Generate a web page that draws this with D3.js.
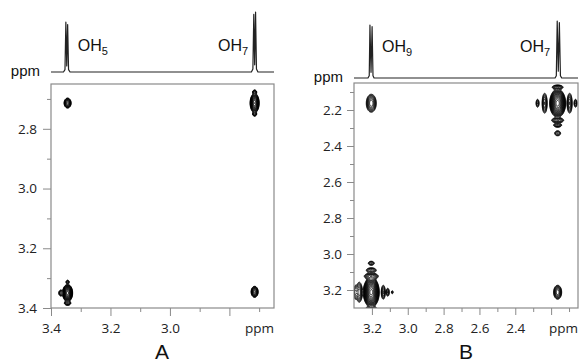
<!DOCTYPE html>
<html><head><meta charset="utf-8">
<script src="https://cdn.jsdelivr.net/npm/d3@7"></script>
<style>body{margin:0;background:#fff}svg{display:block}</style>
</head><body><svg id="c" width="579" height="364"></svg>
<script>
// ---------- DATA ----------
const panelNames = ["A", "B"];
// axis domains (ppm)
const domainA = [3.4, 2.65];
const domainB = [3.30, 2.05];
// ticks
const xMajorA = [3.4, 3.2, 3.0, 2.8];
const xMajorLabelsA = ["3.4", "3.2", "3.0", ""];
const xMinorA = [3.3, 3.1, 2.9, 2.7];
const yMajorA = [2.8, 3.0, 3.2, 3.4];
const yMinorA = [2.7, 2.9, 3.1, 3.3];
const xMajorB = [3.2, 3.0, 2.8, 2.6, 2.4, 2.2];
const xMajorLabelsB = ["3.2", "3.0", "2.8", "2.6", "2.4", ""];
const xMinorB = [3.1, 2.9, 2.7, 2.5, 2.3, 2.1];
const yMajorB = [2.2, 2.4, 2.6, 2.8, 3.0, 3.2];
const yMinorB = [2.1, 2.3, 2.5, 2.7, 2.9, 3.1];
// 1D projection spectra: [ppm, relative intensity]
const spectrumA = [[3.400,0],[3.358,0],[3.353,0.04],[3.350,0.83],[3.347,0.10],[3.344,0.79],[3.341,0.04],[3.336,0],
  [2.726,0],[2.721,0.05],[2.718,0.96],[2.715,0.12],[2.712,1.0],[2.709,0.05],[2.704,0],[2.650,0]];
const spectrumB = [[3.300,0],[3.222,0],[3.215,0.04],[3.211,0.93],[3.205,0.10],[3.199,0.90],[3.194,0.04],[3.188,0],
  [2.178,0],[2.171,0.04],[2.166,1.0],[2.160,0.12],[2.154,0.97],[2.148,0.04],[2.141,0],[2.050,0]];
// peak labels: [ppm position of label start, name, subscript]
const peakLabelsA = [[3.310, "OH", "5"], [2.838, "OH", "7"]];
const peakLabelsB = [[3.144, "OH", "9"], [2.374, "OH", "7"]];
// 2D cross-peaks: centre (ppm), intensity, gaussian widths (ppm)
const peaksA = [
  {x:3.345, y:2.713, a:12, sx:0.0053, sy:0.0075},
  {x:2.716, y:2.713, a:40, sx:0.0056, sy:0.0118},
  {x:2.716, y:2.676, a:4,  sx:0.0040, sy:0.0040},
  {x:2.716, y:2.750, a:4,  sx:0.0040, sy:0.0040},
  {x:3.345, y:3.349, a:60, sx:0.0059, sy:0.0100},
  {x:3.345, y:3.312, a:3,  sx:0.0035, sy:0.0040},
  {x:3.345, y:3.383, a:5,  sx:0.0060, sy:0.0040},
  {x:3.368, y:3.349, a:4,  sx:0.0040, sy:0.0060},
  {x:2.716, y:3.345, a:12, sx:0.0053, sy:0.0083}
];
const peaksB = [
  {x:3.205, y:2.161, a:8,   sx:0.0137, sy:0.0245},
  {x:2.165, y:3.211, a:8,   sx:0.0110, sy:0.0190},
  {x:2.165, y:2.161, a:80,  sx:0.0151, sy:0.0264},
  {x:2.165, y:2.072, a:5,   sx:0.0167, sy:0.0067},
  {x:2.165, y:2.256, a:5,   sx:0.0187, sy:0.0078},
  {x:2.165, y:2.283, a:4,   sx:0.0134, sy:0.0067},
  {x:2.165, y:2.328, a:3,   sx:0.0112, sy:0.0094},
  {x:2.2375,y:2.161, a:5,   sx:0.0078, sy:0.0310},
  {x:2.277, y:2.161, a:3,   sx:0.0056, sy:0.0150},
  {x:2.098, y:2.161, a:5,   sx:0.0078, sy:0.0310},
  {x:2.065, y:2.161, a:3,   sx:0.0056, sy:0.0150},
  {x:3.205, y:3.211, a:100, sx:0.0147, sy:0.0275},
  {x:3.272, y:3.211, a:6,   sx:0.0090, sy:0.0295},
  {x:3.294, y:3.211, a:4,   sx:0.0067, sy:0.0220},
  {x:3.138, y:3.211, a:4,   sx:0.0067, sy:0.0234},
  {x:3.113, y:3.211, a:3,   sx:0.0056, sy:0.0150},
  {x:3.088, y:3.211, a:2,   sx:0.0040, sy:0.0072},
  {x:3.205, y:3.122, a:6,   sx:0.0207, sy:0.0089},
  {x:3.205, y:3.089, a:4,   sx:0.0167, sy:0.0083},
  {x:3.205, y:3.050, a:3,   sx:0.0112, sy:0.0075},
  {x:3.205, y:3.306, a:5,   sx:0.0180, sy:0.0090}
];

// ---------- DRAW ----------
const svg = d3.select("#c");
const tickFont = "'Open Sans', 'Liberation Sans', sans-serif";
const labFont = "'Liberation Sans', Arial, sans-serif";
const frameCol = "#8a8a8a";

function panel(cfg) {
  const g = svg.append("g");
  const x = d3.scaleLinear().domain(cfg.domain).range([cfg.left, cfg.right]);
  const y = d3.scaleLinear().domain([cfg.domain[1], cfg.domain[0]]).range([cfg.top, cfg.bottom]);
  const ys = d3.scaleLinear().domain([0, 1]).range([cfg.specBase, cfg.specTop]);

  const cid = "clip" + cfg.name;
  svg.append("clipPath").attr("id", cid).append("rect")
    .attr("x", cfg.left).attr("y", cfg.top)
    .attr("width", cfg.right - cfg.left).attr("height", cfg.bottom - cfg.top);

  // contours
  const res = 2;
  const x0 = cfg.left, y0 = cfg.top;
  const nx = Math.ceil((cfg.right - cfg.left) * res), ny = Math.ceil((cfg.bottom - cfg.top) * res);
  const vals = new Float64Array(nx * ny);
  const kx = Math.abs(x(1) - x(0)), ky = Math.abs(y(1) - y(0));
  cfg.peaks.forEach(p => {
    const cx = (x(p.x) - x0) * res, cy = (y(p.y) - y0) * res;
    const sx = p.sx * kx * res, sy = p.sy * ky * res;
    const i0 = Math.max(0, Math.floor(cx - 6 * sx)), i1 = Math.min(nx - 1, Math.ceil(cx + 6 * sx));
    const j0 = Math.max(0, Math.floor(cy - 6 * sy)), j1 = Math.min(ny - 1, Math.ceil(cy + 6 * sy));
    for (let j = j0; j <= j1; j++) for (let i = i0; i <= i1; i++) {
      vals[i + j * nx] += p.a * Math.exp(-0.5 * ((i - cx) / sx) ** 2 - 0.5 * ((j - cy) / sy) ** 2);
    }
  });
  const th = d3.range(0, 24).map(k => Math.pow(1.3, k));
  const cs = d3.contours().size([nx, ny]).thresholds(th)(vals);
  const path = d3.geoPath(d3.geoTransform({point(px, py) { this.stream.point(x0 + px / res, y0 + py / res); }}));
  g.append("g").attr("clip-path", `url(#${cid})`)
    .selectAll("path").data(cs).join("path")
    .attr("d", path).attr("fill", "none").attr("stroke", "#000").attr("stroke-width", 0.85);

  // frame
  g.append("rect").attr("x", cfg.left).attr("y", cfg.top)
    .attr("width", cfg.right - cfg.left).attr("height", cfg.bottom - cfg.top)
    .attr("fill", "none").attr("stroke", frameCol).attr("stroke-width", 1.2);

  // axes
  function styleAxis(sel) {
    sel.select(".domain").remove();
    sel.selectAll("line").attr("stroke", frameCol).attr("stroke-width", 1);
    sel.selectAll("text").attr("fill", "#222").style("font-family", tickFont).style("font-size", "13.5px");
  }
  const xa = g.append("g").attr("transform", `translate(0,${cfg.bottom})`)
    .call(d3.axisBottom(x).tickValues(cfg.xMajor).tickSize(cfg.majorLen).tickPadding(cfg.xPad)
      .tickFormat((d, i) => cfg.xMajorLabels[i]));
  styleAxis(xa);
  const xm = g.append("g").attr("transform", `translate(0,${cfg.bottom})`)
    .call(d3.axisBottom(x).tickValues(cfg.xMinor).tickSize(4).tickFormat(""));
  styleAxis(xm);
  const ya = g.append("g").attr("transform", `translate(${cfg.left},0)`)
    .call(d3.axisLeft(y).tickValues(cfg.yMajor).tickSize(cfg.majorLen).tickPadding(cfg.yPad)
      .tickFormat(d3.format(".1f")));
  styleAxis(ya);
  const ym = g.append("g").attr("transform", `translate(${cfg.left},0)`)
    .call(d3.axisLeft(y).tickValues(cfg.yMinor).tickSize(4).tickFormat(""));
  styleAxis(ym);

  // bottom "ppm"
  g.append("text").attr("x", cfg.right).attr("y", cfg.bottom + cfg.majorLen + cfg.xPad).attr("dy", "0.71em")
    .attr("text-anchor", "end").attr("fill", "#222")
    .style("font-family", tickFont).style("font-size", "13.5px").text("ppm");

  // 1D spectrum
  const line = d3.line().x(d => x(d[0])).y(d => ys(d[1]));
  g.append("path").datum(cfg.spectrum).attr("d", line)
    .attr("fill", "none").attr("stroke", "#222").attr("stroke-width", 1.2).attr("stroke-linejoin", "round");

  // top-left ppm
  g.append("text").attr("x", cfg.ppmX).attr("y", cfg.specBase + 4).attr("text-anchor", "end")
    .attr("fill", "#111").style("font-family", labFont).style("font-size", "15px").text("ppm");

  // peak labels
  cfg.peakLabels.forEach(l => {
    const t = g.append("text").attr("x", x(l[0])).attr("y", cfg.labY)
      .attr("fill", "#111").style("font-family", labFont).style("font-size", "16px");
    t.append("tspan").text(l[1]);
    t.append("tspan").attr("dy", 4).style("font-size", "11px").text(l[2]);
  });

  // panel letter
  g.append("text").attr("x", cfg.letterX).attr("y", 359).attr("text-anchor", "middle")
    .attr("fill", "#111").style("font-family", labFont).style("font-size", "21px").text(cfg.name);
}

panel({name: panelNames[0], domain: domainA, left: 51, right: 274, top: 84, bottom: 308,
  specBase: 72, specTop: 12, spectrum: spectrumA, peaks: peaksA, peakLabels: peakLabelsA, labY: 51,
  xMajor: xMajorA, xMajorLabels: xMajorLabelsA, xMinor: xMinorA, yMajor: yMajorA, yMinor: yMinorA,
  majorLen: 8, xPad: 7, yPad: 6, ppmX: 40, letterX: 162});
panel({name: panelNames[1], domain: domainB, left: 354, right: 578, top: 83, bottom: 308,
  specBase: 78, specTop: 21, spectrum: spectrumB, peaks: peaksB, peakLabels: peakLabelsB, labY: 52,
  xMajor: xMajorB, xMajorLabels: xMajorLabelsB, xMinor: xMinorB, yMajor: yMajorB, yMinor: yMinorB,
  majorLen: 7, xPad: 8, yPad: 5, ppmX: 343, letterX: 466});
</script></body></html>
